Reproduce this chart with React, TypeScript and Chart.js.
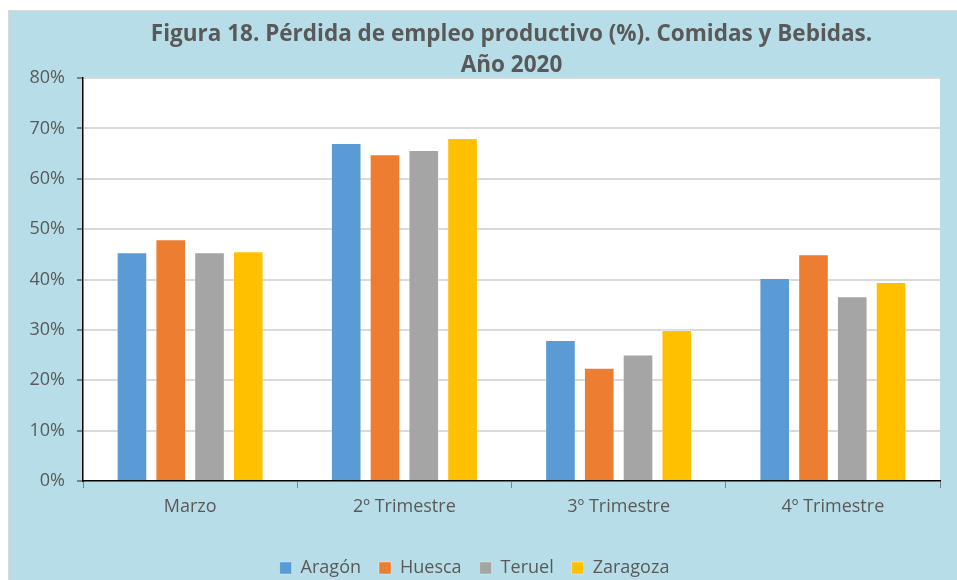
import React, { useEffect, useRef } from "react";
import { Chart, registerables } from "chart.js";

Chart.register(...registerables);

const categories = ["Marzo", "2º Trimestre", "3º Trimestre", "4º Trimestre"];
const seriesNames = ["Aragón", "Huesca", "Teruel", "Zaragoza"];
const aragon = [45.4, 67.1, 28.0, 40.3];
const huesca = [48.0, 64.9, 22.5, 45.0];
const teruel = [45.4, 65.7, 25.1, 36.7];
const zaragoza = [45.6, 68.1, 30.0, 39.5];
const colors = ["#5b9bd5", "#ed7d31", "#a5a5a5", "#ffc000"];
const titleLines = ["Figura 18. Pérdida de empleo productivo (%). Comidas y Bebidas.", "Año 2020"];

const FONT = "'Open Sans'";

export default function App() {
  const ref = useRef<HTMLCanvasElement | null>(null);
  useEffect(() => {
    document.documentElement.style.overflow = "hidden";
    const ctx = ref.current!;
    const values = [aragon, huesca, teruel, zaragoza];
    const chart = new Chart(ctx, {
      type: "bar",
      data: {
        labels: categories,
        datasets: seriesNames.map((n, i) => ({
          label: n,
          data: values[i],
          backgroundColor: colors[i],
          borderColor: "rgba(255,255,255,0.35)",
          borderWidth: 1,
          categoryPercentage: 0.724,
          barPercentage: 0.79,
        })),
      },
      options: {
        animation: false,
        responsive: false,
        layout: { padding: { left: 0, right: 17, top: 0, bottom: 0 } },
        plugins: {
          title: {
            display: true,
            fullSize: false,
            text: titleLines,
            color: "#595959",
            font: { family: FONT, size: 22.5, weight: "bold", lineHeight: 1.38 },
            padding: { top: 8, bottom: -3 },
          },
          legend: {
            position: "bottom",
            labels: {
              boxWidth: 12,
              boxHeight: 12,
              color: "#595959",
              font: { family: FONT, size: 18 },
              padding: 18,
            },
          },
          tooltip: { enabled: false },
        },
        scales: {
          x: {
            grid: {
              offset: true,
              drawOnChartArea: false,
              drawTicks: true,
              tickLength: 7,
              tickColor: "#7f7f7f",
            },
            border: { color: "#000000", width: 1.5 },
            ticks: {
              color: "#595959",
              font: { family: FONT, size: 18 },
              padding: 8,
            },
            afterFit: (s: any) => {
              s.height = 60;
            },
          },
          y: {
            min: 0,
            max: 80,
            grid: {
              color: "#d9d9d9",
              lineWidth: 2,
              tickLength: 6,
              tickColor: "#7f7f7f",
            },
            border: { color: "#000000", width: 1.5 },
            ticks: {
              stepSize: 10,
              color: "#595959",
              font: { family: FONT, size: 18 },
              padding: 12,
              callback: (v: any) => v + "%",
            },
            afterFit: (s: any) => {
              s.width = 74;
            },
          },
        },
      },
      plugins: [
        {
          id: "whiteArea",
          beforeDraw: (c: any) => {
            const a = c.chartArea;
            c.ctx.save();
            c.ctx.fillStyle = "#ffffff";
            c.ctx.fillRect(a.left, a.top, a.right - a.left, a.bottom - a.top);
            c.ctx.restore();
          },
        },
      ],
    });
    return () => chart.destroy();
  }, []);
  return (
    <div
      style={{
        position: "absolute",
        left: 8,
        top: 10,
        width: 948,
        height: 569,
        overflow: "hidden",
        background: "#b7dee8",
        borderLeft: "1px solid #d9d9d9",
        borderTop: "1px solid #d9d9d9",
      }}
    >
      <canvas ref={ref} width={948} height={576} style={{ display: "block" }} />
    </div>
  );
}
